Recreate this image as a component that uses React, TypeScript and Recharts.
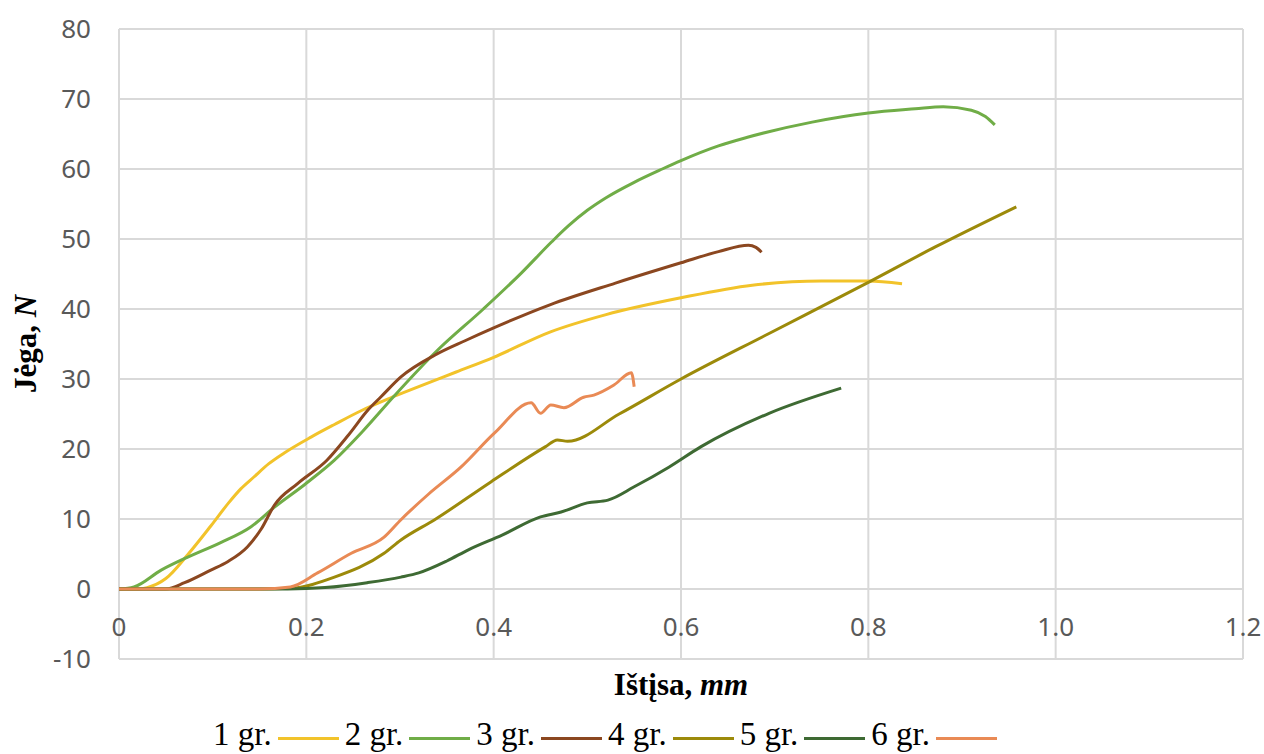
import React from "react";
import { LineChart, Line, XAxis, YAxis, CartesianGrid, Legend, Label } from "recharts";

// Ištįsa (mm) / Jėga (N) pairs
const gr1: [number, number][] = [
  [0, 0], [0.02, 0], [0.03, 0.2], [0.05, 1.5], [0.074, 5], [0.098, 9], [0.117, 12.3],
  [0.13, 14.3], [0.144, 16], [0.16, 17.9], [0.176, 19.4], [0.205, 21.7], [0.23, 23.5],
  [0.259, 25.5], [0.29, 27.3], [0.32, 28.9], [0.36, 31], [0.4, 33.1], [0.46, 36.7],
  [0.52, 39.2], [0.6, 41.6], [0.676, 43.4], [0.75, 44], [0.8, 44], [0.836, 43.6],
];
const gr2: [number, number][] = [
  [0, 0], [0.016, 0.3], [0.045, 2.7], [0.074, 4.6], [0.108, 6.6], [0.141, 8.9],
  [0.166, 11.7], [0.198, 14.9], [0.23, 18.4], [0.26, 22.5], [0.294, 27.6], [0.34, 34.1],
  [0.389, 40], [0.43, 45.2], [0.462, 49.6], [0.48, 51.9], [0.5, 54.1], [0.52, 55.9],
  [0.55, 58.1], [0.58, 60], [0.6, 61.2], [0.64, 63.3], [0.67, 64.5], [0.74, 66.7],
  [0.8, 68], [0.85, 68.6], [0.88, 68.9], [0.91, 68.4], [0.925, 67.5], [0.935, 66.3],
];
const gr3: [number, number][] = [
  [0, 0], [0.05, 0], [0.07, 0.9], [0.098, 2.7], [0.116, 3.9], [0.137, 6], [0.152, 8.6],
  [0.166, 12], [0.191, 15.1], [0.222, 18.4], [0.245, 22], [0.266, 25.6], [0.28, 27.5],
  [0.301, 30.3], [0.337, 33.4], [0.37, 35.5], [0.4, 37.3], [0.46, 40.6], [0.53, 43.7],
  [0.6, 46.6], [0.64, 48.2], [0.672, 49.1], [0.68, 48.8], [0.686, 48.1],
];
const gr4: [number, number][] = [
  [0, 0], [0.15, 0], [0.183, 0.1], [0.23, 1.7], [0.283, 5.1], [0.301, 7], [0.337, 9.9],
  [0.397, 15.3], [0.455, 20.3], [0.468, 21.3], [0.479, 21.1], [0.534, 25], [0.6, 30],
  [0.694, 36.5], [0.8, 43.8], [0.872, 48.9], [0.958, 54.6],
];
const gr5: [number, number][] = [
  [0, 0], [0.18, 0], [0.22, 0.2], [0.265, 0.9], [0.301, 1.7], [0.32, 2.3], [0.35, 4],
  [0.373, 5.6], [0.409, 7.7], [0.45, 10.3], [0.472, 11], [0.5, 12.3], [0.522, 12.7],
  [0.55, 14.6], [0.587, 17.4], [0.621, 20.3], [0.694, 25.1], [0.771, 28.7],
];
const gr6: [number, number][] = [
  [0, 0], [0.15, 0], [0.183, 0.3], [0.212, 2.3], [0.248, 5.1], [0.283, 7.4], [0.301, 9.9],
  [0.33, 13.5], [0.365, 17.4], [0.401, 22.3], [0.44, 26.6], [0.45, 25.1], [0.461, 26.3],
  [0.475, 25.9], [0.496, 27.4], [0.507, 27.7], [0.528, 29.1], [0.547, 30.9], [0.55, 28.9],
];

const SERIES_NAMES = ["1 gr.", "2 gr.", "3 gr.", "4 gr.", "5 gr.", "6 gr."];
const SERIES_POINTS = [gr1, gr2, gr3, gr4, gr5, gr6];
const SERIES_COLORS = ["#F2C32A", "#70AD47", "#8B4720", "#9C8A0A", "#3E6A33", "#E98A55"];

const X_TICKS = [0, 0.2, 0.4, 0.6, 0.8, 1.0, 1.2];
const X_TICK_LABELS = ["0", "0.2", "0.4", "0.6", "0.8", "1.0", "1.2"];
const Y_TICKS = [-10, 0, 10, 20, 30, 40, 50, 60, 70, 80];

const TICK_FONT = "'Noto Sans', 'Open Sans', sans-serif";
const SERIF = "'Liberation Serif', 'Times New Roman', serif";

function XTick(props: any) {
  const { x, y, payload } = props;
  const idx = X_TICKS.indexOf(payload.value);
  // Excel puts the labels right under the zero line
  return (
    <text x={x} y={y - 23} textAnchor="middle" fill="#595959" fontSize={26} fontFamily={TICK_FONT}>
      {idx >= 0 ? X_TICK_LABELS[idx] : payload.value}
    </text>
  );
}

function XTitle(props: any) {
  const vb = props.viewBox || { x: 0, y: 0, width: 0 };
  return (
    <text x={vb.x + vb.width / 2} y={vb.y + 36} textAnchor="middle" fontFamily={SERIF} fontSize={31} fontWeight="bold" fill="#000">
      Ištįsa, <tspan fontStyle="italic">mm</tspan>
    </text>
  );
}

function YTitle(props: any) {
  const vb = props.viewBox || { x: 0, y: 0, height: 0 };
  const cx = 36;
  const cy = vb.y + vb.height / 2;
  return (
    <text x={cx} y={cy} transform={`rotate(-90, ${cx}, ${cy})`} textAnchor="middle" fontFamily={SERIF} fontSize={31} fontWeight="bold" fill="#000">
      Jėga, <tspan fontStyle="italic">N</tspan>
    </text>
  );
}

function LegendRow() {
  return (
    <div style={{ display: "flex", alignItems: "center", paddingLeft: 213, fontFamily: SERIF, fontSize: 33, lineHeight: "36px", color: "#000" }}>
      {SERIES_NAMES.map((name, i) => (
        <div key={name} style={{ display: "flex", alignItems: "center", marginRight: 6 }}>
          <span>{name}</span>
          <span style={{ display: "inline-block", width: 61, height: 3, marginLeft: 6, marginTop: 9, background: SERIES_COLORS[i] }} />
        </div>
      ))}
    </div>
  );
}

export default function App() {
  return (
    <div style={{ position: "absolute", left: 0, top: 0, width: 1264, height: 754, background: "#fff" }}>
      <LineChart width={1264} height={754} margin={{ top: 29, right: 21, left: 0, bottom: 35 }}>
        <CartesianGrid stroke="#d9d9d9" strokeWidth={2} />
        <XAxis
          type="number"
          dataKey="x"
          domain={[0, 1.2]}
          ticks={X_TICKS}
          allowDataOverflow
          axisLine={false}
          tickLine={false}
          tickSize={0}
          tickMargin={0}
          height={60}
          tick={<XTick />}
        >
          <Label content={<XTitle />} />
        </XAxis>
        <YAxis
          type="number"
          domain={[-10, 80]}
          ticks={Y_TICKS}
          allowDataOverflow
          axisLine={false}
          tickLine={false}
          tickSize={0}
          tickMargin={28}
          width={119}
          tick={{ fill: "#595959", fontSize: 26, fontFamily: TICK_FONT }}
        >
          <Label content={<YTitle />} />
        </YAxis>
        <Legend
          layout="horizontal"
          verticalAlign="middle"
          align="center"
          wrapperStyle={{ top: 716, left: 0, width: 1264 }}
          content={<LegendRow />}
        />
        {SERIES_POINTS.map((pts, i) => (
          <Line
            key={SERIES_NAMES[i]}
            name={SERIES_NAMES[i]}
            data={pts.map(([x, y]) => ({ x, y }))}
            dataKey="y"
            type="monotone"
            stroke={SERIES_COLORS[i]}
            strokeWidth={3}
            dot={false}
            activeDot={false}
            isAnimationActive={false}
          />
        ))}
      </LineChart>
    </div>
  );
}
